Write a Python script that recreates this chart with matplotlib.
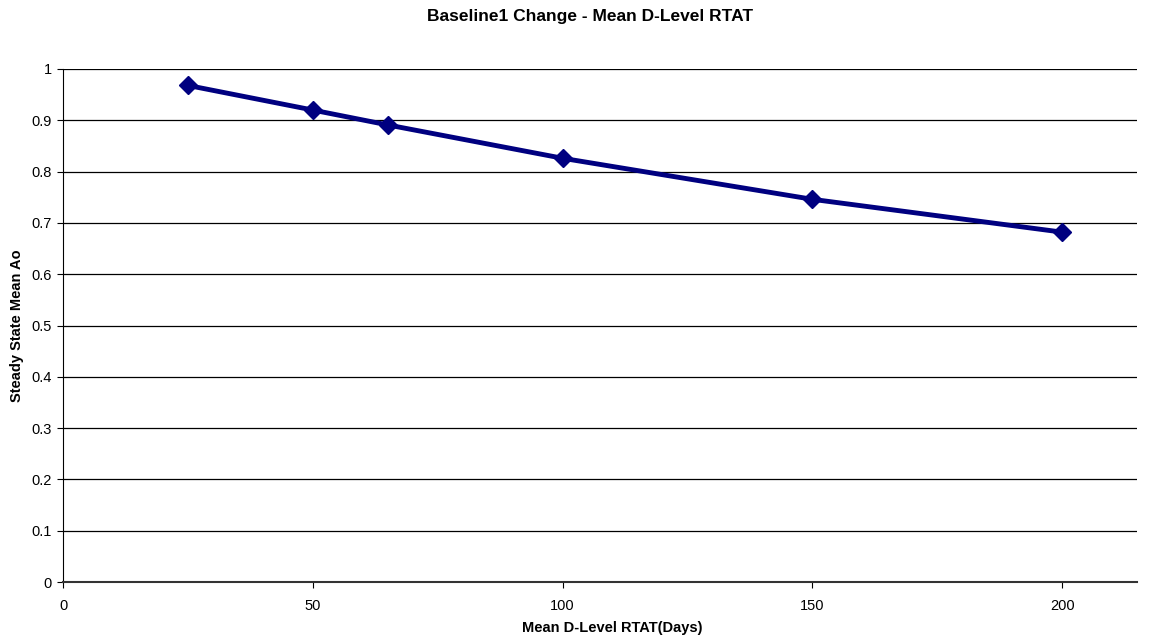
import matplotlib
matplotlib.use("Agg")
import matplotlib.pyplot as plt

plt.rcParams['font.family'] = ['Liberation Sans', 'DejaVu Sans']

rtat_days = [25, 50, 65, 100, 150, 200]
mean_ao = [0.968, 0.920, 0.891, 0.826, 0.746, 0.682]
x_ticks = [0, 50, 100, 150, 200]
y_ticks = [0, 0.1, 0.2, 0.3, 0.4, 0.5, 0.6, 0.7, 0.8, 0.9, 1]
y_labels = ['0', '0.1', '0.2', '0.3', '0.4', '0.5', '0.6', '0.7', '0.8', '0.9', '1']

fig = plt.figure(figsize=(11.56, 6.39), dpi=100)
W, H = 1156, 639
ax = fig.add_axes([63 / W, 1 - 582 / H, (1137 - 63) / W, (582 - 69) / H])

ax.set_xlim(0, 215)
ax.set_ylim(0, 1)
ax.set_xticks(x_ticks)
ax.set_xticklabels([str(t) for t in x_ticks])
ax.set_yticks(y_ticks)
ax.set_yticklabels(y_labels)
ax.grid(axis='y', color='black', linewidth=0.9)
ax.set_axisbelow(True)

for s in ['top', 'right']:
    ax.spines[s].set_visible(False)
ax.spines['left'].set_color('black')
ax.spines['bottom'].set_color('#333333')
ax.spines['bottom'].set_linewidth(1.5)
ax.tick_params(direction='out', length=4, labelsize=10.5, colors='black')
ax.tick_params(axis='y', pad=4)
ax.tick_params(axis='x', pad=8)

ax.plot(rtat_days, mean_ao, color='#000080', linewidth=3.5, marker='D',
        markersize=9, clip_on=False, zorder=3)

fig.text(590 / W, 1 - 17 / H, 'Baseline1 Change - Mean D-Level RTAT', ha='center', va='center',
         fontsize=12.5, fontweight='bold')
ax.set_xlabel('Mean D-Level RTAT(Days)', fontsize=10.5, fontweight='bold')
ax.xaxis.set_label_coords((612 - 63) / (1137 - 63), -(628 - 582) / (582 - 69))
ax.xaxis.label.set_va('center')
ax.set_ylabel('Steady State Mean Ao', fontsize=10.5, fontweight='bold')
ax.yaxis.set_label_coords(-(63 - 17) / (1137 - 63), 0.5)
ax.yaxis.label.set_va('center')

fig.savefig('out.png', dpi=100)
